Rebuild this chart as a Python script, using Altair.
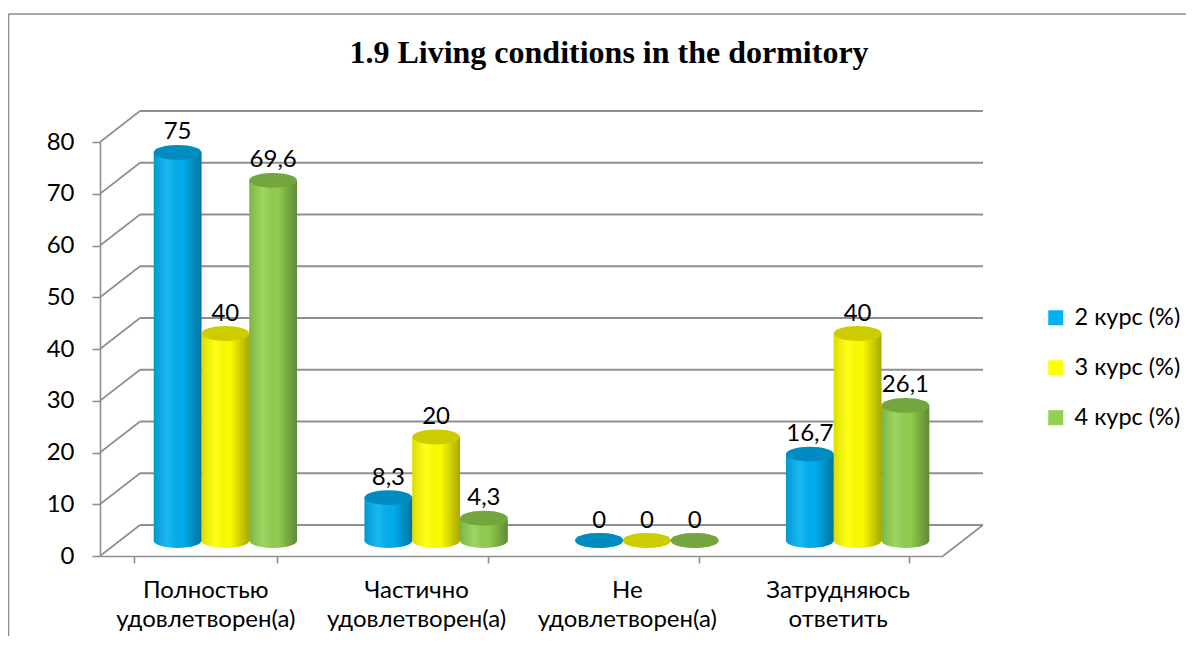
import altair as alt
import pandas as pd

# ---------------- data ----------------
title_text = "1.9 Living conditions in the dormitory"
categories = ["Полностью удовлетворен(а)", "Частично удовлетворен(а)",
              "Не удовлетворен(а)", "Затрудняюсь ответить"]
series = ["2 курс (%)", "3 курс (%)", "4 курс (%)"]
course2 = [75, 8.3, 0, 16.7]
course3 = [40, 20, 0, 40]
course4 = [69.6, 4.3, 0, 26.1]
colors = ["#00B0F0", "#FFFF00", "#92D050"]
y_ticks = [0, 10, 20, 30, 40, 50, 60, 70, 80]

rows = []
for s, vals in zip(series, [course2, course3, course4]):
    for c, v in zip(categories, vals):
        rows.append({"cat": c, "series": s, "value": v,
                     "label": str(v).replace(".", ",")})
df = pd.DataFrame(rows)
ticks_df = pd.DataFrame({"v": y_ticks})

# ---------------- layout ----------------
W, H = 843, 414
DX, DY = 40, -31          # depth of the 3D box
MX, MY = 20, -15.5        # cylinders sit in the middle of the depth
PAD_IN = 0.32
BW = W / len(categories) * (1 - PAD_IN)
GRID = "#8f8f8f"
FONT = "Lato"
FS = 24

yscale = alt.Scale(domain=[0, 80], nice=False, zero=True)
yaxis = alt.Axis(values=y_ticks, grid=False, title=None, domainColor=GRID,
                 domainWidth=1.6, tickColor=GRID, tickWidth=1.6, tickSize=8,
                 labelPadding=18, labelFont=FONT, labelFontSize=FS,
                 labelColor="#000000")
xscale = alt.Scale(paddingInner=PAD_IN, paddingOuter=PAD_IN / 2)
xaxis = alt.Axis(title=None, labelAngle=0, tickBand="extent", domainColor=GRID,
                 domainWidth=1.6, tickColor=GRID, tickWidth=1.6, tickSize=7,
                 labelPadding=15, labelFont=FONT, labelFontSize=FS,
                 labelLineHeight=29, labelColor="#000000",
                 labelExpr="split(datum.label, ' ')")


def X():
    return alt.X("cat:N", sort=categories, scale=xscale, axis=xaxis)


def XO():
    return alt.XOffset("series:N", sort=series,
                       scale=alt.Scale(range=[MX, MX + BW], paddingInner=0, paddingOuter=0))


def Y(field):
    return alt.Y(f"{field}:Q", scale=yscale, axis=yaxis)


color = alt.Color("series:N", sort=series,
                  scale=alt.Scale(domain=series, range=colors),
                  legend=alt.Legend(title=None, orient="none", legendX=944, legendY=164,
                                    symbolType="square", symbolSize=225,
                                    symbolStrokeWidth=0, symbolOpacity=1,
                                    labelFont=FONT, labelFontSize=23.5, labelColor="#000000",
                                    labelOffset=7, rowPadding=25, padding=0, offset=0))

ELLIPSE = "M -1 0 A 1 0.31 0 1 1 1 0 A 1 0.31 0 1 1 -1 0 Z"
ESIZE = BW / 3 * BW / 3

shade = alt.Gradient(gradient="linear", x1=0, x2=1, y1=0, y2=0, stops=[
    alt.GradientStop(offset=0, color="rgba(0,0,0,0.14)"),
    alt.GradientStop(offset=0.3, color="rgba(255,255,255,0.10)"),
    alt.GradientStop(offset=0.6, color="rgba(0,0,0,0.02)"),
    alt.GradientStop(offset=1, color="rgba(0,0,0,0.34)"),
])

# ---------------- decoration: outer frame and 3D box ----------------
one = pd.DataFrame({"a": [0]})
frame_top = alt.Chart(one).mark_rule(color="#8c8c8c", strokeWidth=1.5).encode(
    x=alt.value(-91.5), x2=alt.value(1086), y=alt.value(-128))
frame_left = alt.Chart(one).mark_rule(color="#8c8c8c", strokeWidth=1.5).encode(
    x=alt.value(-91.5), y=alt.value(-128), y2=alt.value(494))

back_grid = alt.Chart(ticks_df).mark_rule(
    color=GRID, strokeWidth=1.8, xOffset=DX, x2Offset=DX, yOffset=DY
).encode(x=alt.value(0), x2=alt.value(W), y=Y("v"))

left_diag = alt.Chart(ticks_df).mark_rule(
    color=GRID, strokeWidth=1.6, y2Offset=DY
).encode(x=alt.value(0), x2=alt.value(DX), y=Y("v"), y2=alt.Y2("v"))

right_diag = alt.Chart(ticks_df).transform_filter("datum.v == 0").mark_rule(
    color=GRID, strokeWidth=1.6, y2Offset=DY
).encode(x=alt.value(W), x2=alt.value(W + DX), y=Y("v"), y2=alt.Y2("v"))

# ---------------- cylinders ----------------
base = alt.Chart(df)

bottom = base.mark_point(shape=ELLIPSE, size=ESIZE, filled=True, opacity=1,
                         strokeWidth=0, yOffset=MY).encode(
    x=X(), xOffset=XO(), y=alt.Y("zero:Q", scale=yscale, axis=yaxis), color=color
).transform_calculate(zero="0")

bottom_shade = base.mark_point(shape=ELLIPSE, size=ESIZE, filled=True, opacity=1,
                               strokeWidth=0, fill=shade, yOffset=MY).encode(
    x=X(), xOffset=XO(), y=alt.Y("zero:Q", scale=yscale, axis=yaxis)
).transform_calculate(zero="0")

bars = base.mark_bar(yOffset=MY, y2Offset=MY, strokeWidth=0).encode(
    x=X(), xOffset=XO(), y=Y("value"), color=color
)

bars_shade = base.mark_bar(yOffset=MY, y2Offset=MY, strokeWidth=0, fill=shade).encode(
    x=X(), xOffset=XO(), y=Y("value")
)

caps = base.mark_point(shape=ELLIPSE, size=ESIZE, filled=True, opacity=1,
                       strokeWidth=0, yOffset=MY).encode(
    x=X(), xOffset=XO(), y=Y("value"), color=color
)

caps_dark = base.mark_point(shape=ELLIPSE, size=ESIZE, filled=True, opacity=1,
                            strokeWidth=0, fill="rgba(0,0,0,0.2)", yOffset=MY).encode(
    x=X(), xOffset=XO(), y=Y("value")
)

labels = base.mark_text(font=FONT, fontSize=FS, color="#000000", baseline="alphabetic",
                        yOffset=MY - 13).encode(
    x=X(), xOffset=XO(), y=Y("value"), text="label:N"
)

title = alt.Chart(pd.DataFrame({"t": [title_text]})).mark_text(
    font="Liberation Serif", fontWeight="bold", fontSize=32, color="#000000",
    align="center", baseline="alphabetic"
).encode(text="t:N", x=alt.value(509), y=alt.value(-79))

chart = alt.layer(
    frame_top, frame_left, back_grid, left_diag, right_diag,
    bottom, bottom_shade, bars, bars_shade, caps, caps_dark, labels, title
).properties(
    width=W, height=H,
    padding={"left": 92, "top": 134, "right": 245, "bottom": 82},
    autosize=alt.AutoSizeParams(type="none"),
).configure_view(
    stroke="transparent", strokeWidth=0, strokeOpacity=0
).configure(background="#ffffff", style={"cell": {"stroke": "transparent", "strokeWidth": 0}})

chart.save("out.html", embed_options={"renderer": "svg", "actions": False})
